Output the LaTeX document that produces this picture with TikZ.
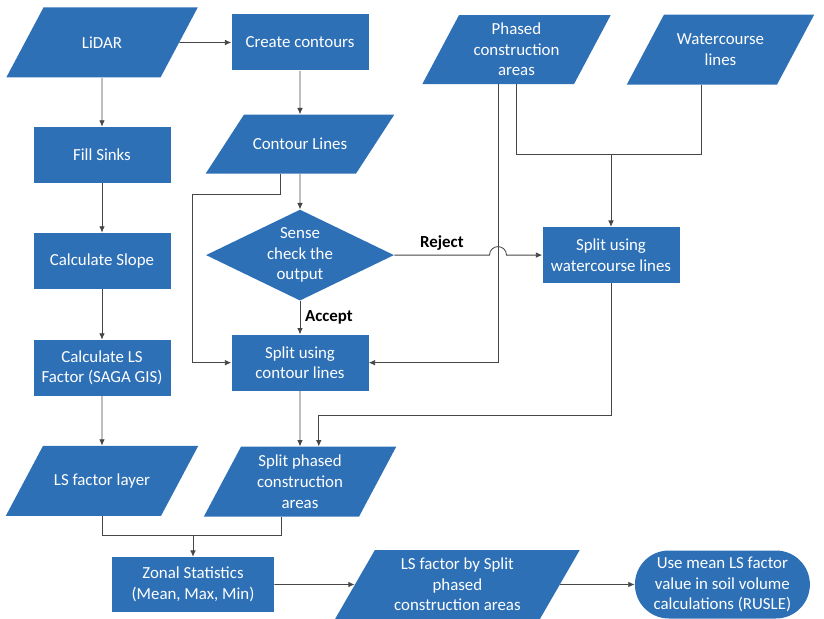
\documentclass[tikz,border=0pt]{standalone}
\usepackage{fontspec}
\setmainfont{Carlito}
\usetikzlibrary{shapes.geometric, arrows.meta, positioning}
\definecolor{flowblue}{RGB}{46,112,182}
\definecolor{linegray}{RGB}{70,70,70}
\newcommand{\paralabel}[3]{\parbox[c][#2][c]{#1}{\centering #3}}

\begin{document}
\begin{tikzpicture}[on grid,
 every node/.style={font=\fontsize{12}{14.6}\selectfont},
 box/.style={rectangle,fill=flowblue,text=white,align=center,
   minimum width=3.425cm,minimum height=1.4cm,inner sep=0pt},
 para/.style={trapezium,trapezium left angle=62,trapezium right angle=118,
   fill=flowblue,text=white,inner sep=0pt},
 decide/.style={diamond,aspect=2.07,fill=flowblue,text=white,align=center,
   minimum width=4.7cm,minimum height=2.275cm,inner sep=0pt},
 finish/.style={rectangle,rounded corners=0.85cm,fill=flowblue,text=white,
   align=center,minimum width=4.375cm,minimum height=1.7cm,inner sep=0pt},
 lbl/.style={text=black,font=\fontsize{12}{14.6}\selectfont\bfseries},
 link/.style={draw=linegray,line width=0.6pt},
 arr/.style={link,-{Latex[length=4.5pt,width=4pt]}}]
 \useasboundingbox (0,0) rectangle (20.6,-15.475);
 \node[para] (lidar) at (2.55,-1.0625) {\paralabel{2.925cm}{1.75cm}{LiDAR}};
 \node[box,right=4.95cm of lidar] (create) {Create contours};
 \node[para,trapezium left angle=57,trapezium right angle=123,
   below=2.54cm of create] (contour)
   {\paralabel{2.8cm}{1.475cm}{Contour Lines}};
 \node[decide,below=2.775cm of contour] (sense) {Sense\\check the\\output};
 \node[box,below=2.69cm of sense] (splitc) {Split using\\contour lines};
 \node[para,below=2.975cm of splitc] (splitp)
   {\paralabel{2.95cm}{1.75cm}{Split phased\\construction\\areas}};
 \node[box,below=2.81cm of lidar] (fill) {Fill Sinks};
 \node[box,below=2.65cm of fill] (slope) {Calculate Slope};
 \node[box,below=2.675cm of slope] (calcls) {Calculate LS\\Factor (SAGA GIS)};
 \node[para,below=2.825cm of calcls] (lslayer)
   {\paralabel{2.95cm}{1.75cm}{LS factor layer}};
 \node[box,minimum width=4.05cm,minimum height=1.375cm,
   below right=2.59cm and 2.275cm of lslayer] (zonal)
   {Zonal Statistics\\(Mean, Max, Min)};
 \node[para,trapezium left angle=60,trapezium right angle=120,
   right=6.61cm of zonal] (lsby)
   {\paralabel{4.125cm}{1.725cm}{LS factor by Split\\phased\\construction areas}};
 \node[finish,right=6.625cm of lsby] (usemean)
   {Use mean LS factor\\value in soil volume\\calculations (RUSLE)};
 \node[box,right=7.775cm of sense] (splitw) {Split using\\watercourse lines};
 \node[para,above left=5.1375cm and 2.3625cm of splitw] (phased)
   {\paralabel{2.875cm}{1.725cm}{Phased\\construction\\areas}};
 \node[para,right=5.1cm of phased] (water)
   {\paralabel{2.825cm}{1.75cm}{Watercourse\\lines}};
 \draw[arr] (lidar) -- (create);
 \draw[arr] (lidar) -- (fill);
 \draw[arr] (fill) -- (slope);
 \draw[arr] (slope) -- (calcls);
 \draw[arr] (calcls) -- (lslayer);
 \draw[arr] (create) -- (contour);
 \draw[arr] (contour) -- (sense);
 \draw[arr] (contour.bottom side) -- ++(0,-0.525)
   -| ([xshift=-0.975cm]splitc.west) -- (splitc.west);
 \draw[arr] (sense) -- node[lbl,right]{Accept} (splitc);
 \coordinate (hop) at (sense.east -| phased.bottom side);
 \draw[arr] (sense.east) -- node[lbl,above]{Reject} ([xshift=-0.2125cm]hop)
   arc[start angle=180,end angle=0,radius=0.2125cm] -- (splitw.west);
 \draw[arr] (phased.bottom side) |- (splitc.east);
 \coordinate (wj) at ([yshift=1.8cm]splitw.north);
 \draw[link] (phased.south) |- (wj);
 \draw[link] (water.bottom side) |- (wj);
 \draw[arr] (wj) -- (splitw);
 \draw[arr] (splitw.south) -- ++(0,-3.3) -| (splitp.top side);
 \draw[arr] (splitc) -- (splitp);
 \coordinate (zj) at ([yshift=0.525cm]zonal.north);
 \draw[link] (lslayer.south) |- (zj);
 \draw[link] (splitp.bottom side) |- (zj);
 \draw[arr] (zj) -- (zonal);
 \draw[arr] (zonal) -- (lsby);
 \draw[arr] (lsby) -- (usemean);
\end{tikzpicture}
\end{document}
